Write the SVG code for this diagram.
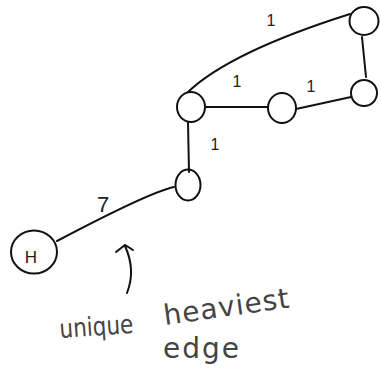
<svg xmlns="http://www.w3.org/2000/svg" width="381" height="377" viewBox="0 0 381 377">
<style>
.n{fill:none;stroke:#111;stroke-width:2}
.e{fill:none;stroke:#111;stroke-width:2;stroke-linecap:round}
.w{font-family:"Liberation Sans",sans-serif;fill:#222}
.h{font-family:"DejaVu Sans",sans-serif;fill:#444}
</style>
<rect width="381" height="377" fill="#fff"/>
<g id="connectors">
<path class="e" d="M188,92 Q230,52 350,14"/>
<path class="e" d="M362,37 L366,77"/>
<path class="e" d="M205,107 L268,107"/>
<path class="e" d="M296,109 L351,97"/>
<path class="e" d="M188,122 L189,172"/>
<path class="e" d="M174,187 Q150,192 57,241"/>
</g>
<g id="n-topright"><ellipse class="n" cx="364" cy="21" rx="14.5" ry="14"/></g>
<g id="n-right"><ellipse class="n" cx="364" cy="93" rx="13" ry="13"/></g>
<g id="n-hub"><ellipse class="n" cx="191" cy="107" rx="14" ry="15"/></g>
<g id="n-mid"><ellipse class="n" cx="282" cy="108" rx="14" ry="15"/></g>
<g id="n-bottom"><ellipse class="n" cx="188" cy="185" rx="12.5" ry="15.5"/></g>
<g id="n-h"><ellipse class="n" cx="34" cy="252" rx="23" ry="21.5"/><text class="w" x="31" y="263" font-size="17" text-anchor="middle">H</text></g>
<g id="labels">
<text class="w" x="271" y="26" font-size="16" text-anchor="middle">1</text>
<text class="w" x="237" y="87" font-size="16" text-anchor="middle" fill="#666">1</text>
<text class="w" x="311" y="92" font-size="16" text-anchor="middle" fill="#666">1</text>
<text class="w" x="215" y="150" font-size="16" text-anchor="middle">1</text>
<text class="w" x="103" y="212" font-size="22" text-anchor="middle">7</text>
</g>
<g id="annotation">
<path class="e" d="M127,293 Q136,270 125,246" stroke-width="1.8"/>
<path class="e" d="M116,252 L125,245 L133,250" stroke-width="1.8"/>
<text class="h" x="60" y="338" font-size="26" textLength="74" lengthAdjust="spacingAndGlyphs" transform="rotate(-4 60 338)">unique</text>
<text class="h" x="165" y="325" font-size="28" letter-spacing="1" fill="#666" transform="rotate(-8 165 325)">heaviest</text>
<text class="h" x="163" y="358" font-size="28" letter-spacing="2" fill="#777">edge</text>
</g>
</svg>
